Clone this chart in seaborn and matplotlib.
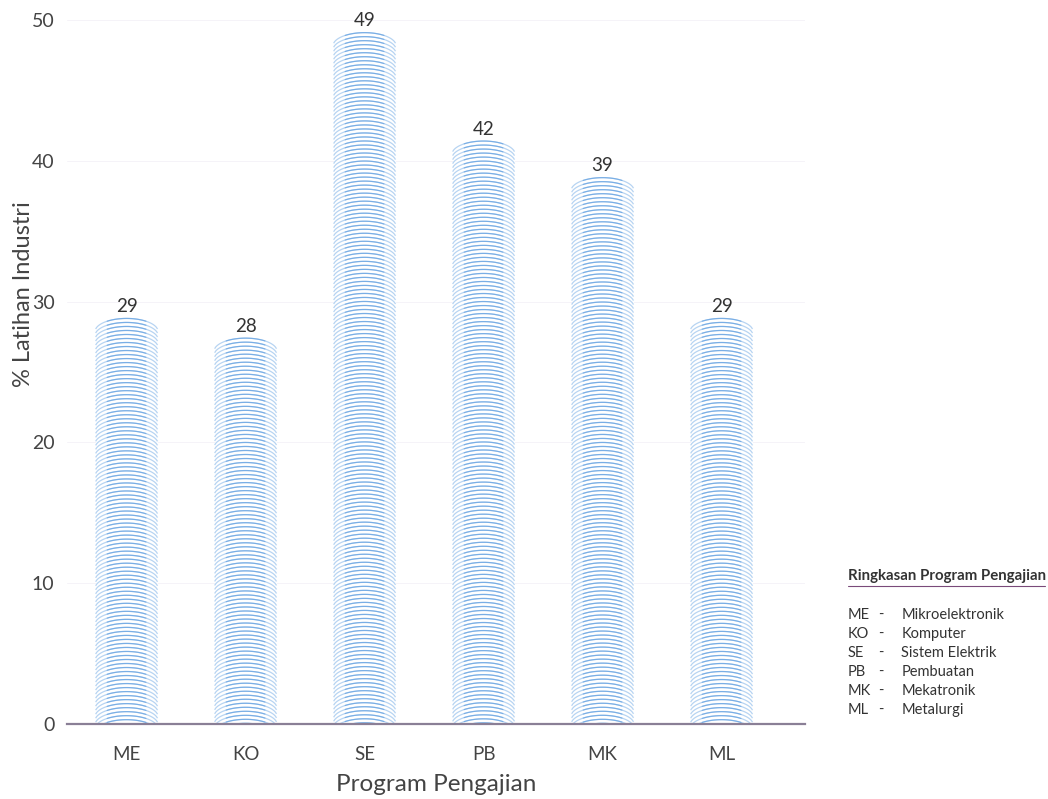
import numpy as np
import pandas as pd
import matplotlib
matplotlib.use("Agg")
import matplotlib.pyplot as plt
import seaborn as sns

categories = ["ME", "KO", "SE", "PB", "MK", "ML"]
values = [28.8, 27.4, 49.1, 41.4, 38.8, 28.8]
value_labels = ["29", "28", "49", "42", "39", "29"]
legend_title = "Ringkasan Program Pengajian"
legend_codes = ["ME", "KO", "SE", "PB", "MK", "ML"]
legend_names = ["Mikroelektronik", "Komputer", "Sistem Elektrik", "Pembuatan", "Mekatronik", "Metalurgi"]

sns.set_theme(style="white")
plt.rcParams['font.family'] = ['Lato', 'DejaVu Sans']

df = pd.DataFrame({"prog": categories, "val": values})

fig = plt.figure(figsize=(10.48, 7.99), dpi=100)
ax = fig.add_axes([0.064, 0.094, 0.704, 0.881])

sns.barplot(data=df, x="prog", y="val", ax=ax, color="white", width=0.52,
            edgecolor="none", linewidth=0)

ax.set_ylim(0, 50)
ax.set_xlim(-0.5, 5.7)

# arc texture inside each bar, derived from bar geometry
step = 0.285   # data units between arcs
sag = 0.75     # data units drop at arc ends
for idx, p in enumerate(ax.patches):
    x0, w, h = p.get_x(), p.get_width(), p.get_height()
    xs = np.linspace(x0, x0 + w, 60)
    t = (xs - (x0 + w / 2)) / (w / 2)
    prof = sag * (1 - np.sqrt(1 - 0.96 * t**2)) / (1 - np.sqrt(0.04))
    inner = np.abs(t) < 0.65
    apex = h
    while apex > 0:
        ys = apex - prof
        ax.plot(xs, ys, color="#b7d4f2", linewidth=0.9, zorder=3, solid_capstyle="butt")
        ax.plot(xs[inner], ys[inner], color="#6aa5e2", linewidth=0.85, zorder=4, alpha=0.8)
        apex -= step
    ax.text(x0 + w / 2, h + 0.25, value_labels[idx],
            ha="center", va="bottom", fontsize=13.5, color="#333333", clip_on=False)

for s in ["top", "right", "left"]:
    ax.spines[s].set_visible(False)
ax.spines["bottom"].set_color("#8a7f96")
ax.spines["bottom"].set_linewidth(1.6)
ax.spines["bottom"].set_zorder(5)

ax.set_yticks([0, 10, 20, 30, 40, 50])
ax.tick_params(axis="y", length=0, labelsize=14, colors="#444444", pad=9)
ax.tick_params(axis="x", length=0, labelsize=13.5, colors="#444444", pad=16)
ax.grid(axis="y", color="#f5f3f8", linewidth=0.7)
ax.set_axisbelow(True)

ax.set_xlabel("Program Pengajian", fontsize=17.5, color="#444444", labelpad=8)
ax.set_ylabel("% Latihan Industri", fontsize=17, color="#444444")
ax.yaxis.set_label_coords(-0.045, 0.61)

# summary box
fig.text(0.809, 0.279, legend_title, fontsize=10.8, color="#333333", fontweight="bold",
         ha="left", va="center")
fig.add_artist(plt.Line2D([0.809, 0.997], [0.266, 0.266], color="#7a4a7a", linewidth=0.8))
ys0 = 1 - 615 / 799
dy = 19 / 799
for i, (c, n) in enumerate(zip(legend_codes, legend_names)):
    yy = ys0 - i * dy
    fig.text(0.809, yy, c, fontsize=10.5, color="#333333", va="center")
    fig.text(0.838, yy, "-", fontsize=10.5, color="#333333", va="center")
    fig.text(0.860, yy, n, fontsize=10.5, color="#333333", va="center")

fig.savefig("out.png", dpi=100, facecolor="white")
